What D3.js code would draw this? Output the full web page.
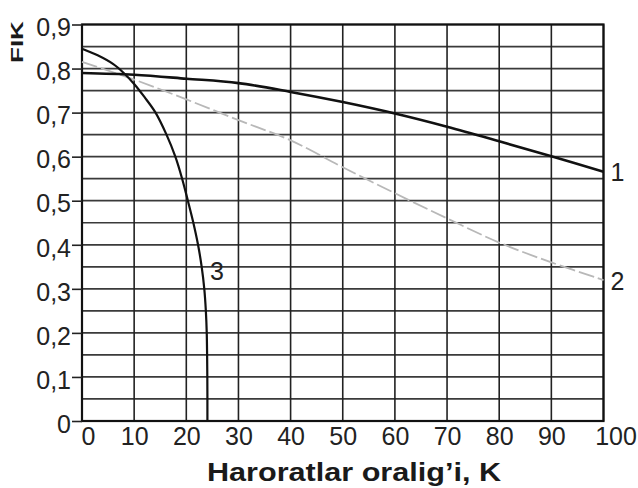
<!DOCTYPE html>
<html>
<head>
<meta charset="utf-8">
<script src="https://cdn.jsdelivr.net/npm/d3@7"></script>
<style>
  html, body { margin: 0; padding: 0; background: #fff; }
  svg { display: block; }
</style>
</head>
<body>
<svg id="chart" width="638" height="488"></svg>
<script>
// ---- data ----
const xTickValues = [0, 10, 20, 30, 40, 50, 60, 70, 80, 90, 100];
const xTickLabels = ["0", "10", "20", "30", "40", "50", "60", "70", "80", "90", "100"];
const yTickValues = [0, 0.1, 0.2, 0.3, 0.4, 0.5, 0.6, 0.7, 0.8, 0.9];
const yTickLabels = ["0", "0,1", "0,2", "0,3", "0,4", "0,5", "0,6", "0,7", "0,8", "0,9"];
const yGridValues = d3.range(0, 19).map(i => i * 0.05);

const curve1X = [0, 10, 20, 30, 40, 50, 60, 70, 80, 90, 100];
const curve1Y = [0.79, 0.786, 0.777, 0.767, 0.747, 0.724, 0.698, 0.668, 0.635, 0.601, 0.566];

const curve2X = [0, 10, 20, 30, 40, 50, 60, 70, 80, 90, 100];
const curve2Y = [0.815, 0.775, 0.73, 0.683, 0.637, 0.576, 0.517, 0.46, 0.405, 0.36, 0.32];

const curve3X = [0, 3, 6, 8, 10, 12, 14.1, 16.2, 17.9, 19.2, 20.3, 21.35, 22.25, 22.95, 23.45, 23.75, 23.92, 24.03, 24.05];
const curve3Y = [0.845, 0.83, 0.81, 0.79, 0.765, 0.735, 0.70, 0.65, 0.60, 0.55, 0.50, 0.45, 0.40, 0.35, 0.30, 0.25, 0.20, 0.10, 0];

const curveLabels = ["1", "2", "3"];
const xTitle = "Haroratlar oralig\u2019i, K";
const yTitle = "FIK";

// ---- drawing ----
(function () {
const svg = d3.select("#chart");
const pL = 82, pR = 603.5, pT = 24.5, pB = 421;
const x = d3.scaleLinear().domain([0, 100]).range([pL, pR]);
const y = d3.scaleLinear().domain([0, 0.9]).range([pB, pT]);

const tickFont = "'Liberation Sans Narrow', 'Arial Narrow', Arial, sans-serif";

// horizontal grid
svg.append("g").selectAll("line").data(yGridValues).join("line")
  .attr("x1", pL).attr("x2", pR)
  .attr("y1", d => y(d)).attr("y2", d => y(d))
  .attr("stroke", "#3a3a3a").attr("stroke-width", 1.7);

// vertical grid
svg.append("g").selectAll("line").data(xTickValues).join("line")
  .attr("x1", d => x(d)).attr("x2", d => x(d))
  .attr("y1", pT).attr("y2", pB)
  .attr("stroke", "#222").attr("stroke-width", 1.6);

// border
svg.append("rect")
  .attr("x", pL).attr("y", pT)
  .attr("width", pR - pL).attr("height", pB - pT)
  .attr("fill", "none").attr("stroke", "#111").attr("stroke-width", 2.2);

// y axis ticks
const yAxis = d3.axisLeft(y).tickValues(yTickValues)
  .tickFormat((d, i) => yTickLabels[i]).tickSize(10).tickPadding(1);
const gy = svg.append("g").attr("transform", `translate(${pL},0)`).call(yAxis);
gy.select(".domain").remove();
gy.selectAll(".tick line").attr("stroke", "#222").attr("stroke-width", 1.6);
gy.selectAll(".tick text")
  .attr("font-family", tickFont).attr("font-size", 25).attr("fill", "#222")
  .attr("dy", "0.45em");

// x axis labels
const xAxis = d3.axisBottom(x).tickValues(xTickValues)
  .tickFormat((d, i) => xTickLabels[i]).tickSize(0).tickPadding(6);
const gx = svg.append("g").attr("transform", `translate(0,${pB})`).call(xAxis);
gx.select(".domain").remove();
gx.selectAll(".tick text")
  .attr("font-family", tickFont).attr("font-size", 25).attr("fill", "#222")
  .attr("dx", d => d === 0 ? 6 : (d === 100 ? 12 : 0));

// lines
const line = d3.line().x(d => x(d[0])).y(d => y(d[1])).curve(d3.curveCatmullRom.alpha(0.5));
const s1 = curve1X.map((v, i) => [v, curve1Y[i]]);
const s2 = curve2X.map((v, i) => [v, curve2Y[i]]);
const s3 = curve3X.map((v, i) => [v, curve3Y[i]]);

svg.append("path").datum(s2).attr("d", line)
  .attr("fill", "none").attr("stroke", "#b8b8b8").attr("stroke-width", 1.8)
  .attr("stroke-dasharray", "16,4");
svg.append("path").datum(s1).attr("d", line)
  .attr("fill", "none").attr("stroke", "#111").attr("stroke-width", 2.6);
svg.append("path").datum(s3).attr("d", line)
  .attr("fill", "none").attr("stroke", "#111").attr("stroke-width", 2.2);

// curve labels
const lab = [
  {t: curveLabels[0], xv: 100, yv: curve1Y[curve1Y.length - 1], dx: 7, dy: 9},
  {t: curveLabels[1], xv: 100, yv: curve2Y[curve2Y.length - 1], dx: 7, dy: 10},
  {t: curveLabels[2], xv: 23.6, yv: 0.32, dx: 5, dy: 0}
];
svg.append("g").selectAll("text").data(lab).join("text")
  .attr("x", d => x(d.xv) + d.dx).attr("y", d => y(d.yv) + d.dy)
  .attr("font-family", tickFont).attr("font-size", 25).attr("fill", "#222")
  .text(d => d.t);

// axis titles
svg.append("text")
  .attr("x", 354).attr("y", 481)
  .attr("text-anchor", "middle")
  .attr("font-family", "'Liberation Sans', Arial, sans-serif")
  .attr("font-weight", "bold").attr("font-size", 25).attr("fill", "#1a1a1a")
  .attr("textLength", 294).attr("lengthAdjust", "spacingAndGlyphs")
  .text(xTitle);

svg.append("text")
  .attr("transform", "translate(23,63) rotate(-90) scale(1,0.62)")
  .attr("text-anchor", "start")
  .attr("font-family", "'Liberation Sans', Arial, sans-serif")
  .attr("font-weight", "bold").attr("font-size", 26).attr("fill", "#1a1a1a")
  .text(yTitle);
})();
</script>
</body>
</html>
